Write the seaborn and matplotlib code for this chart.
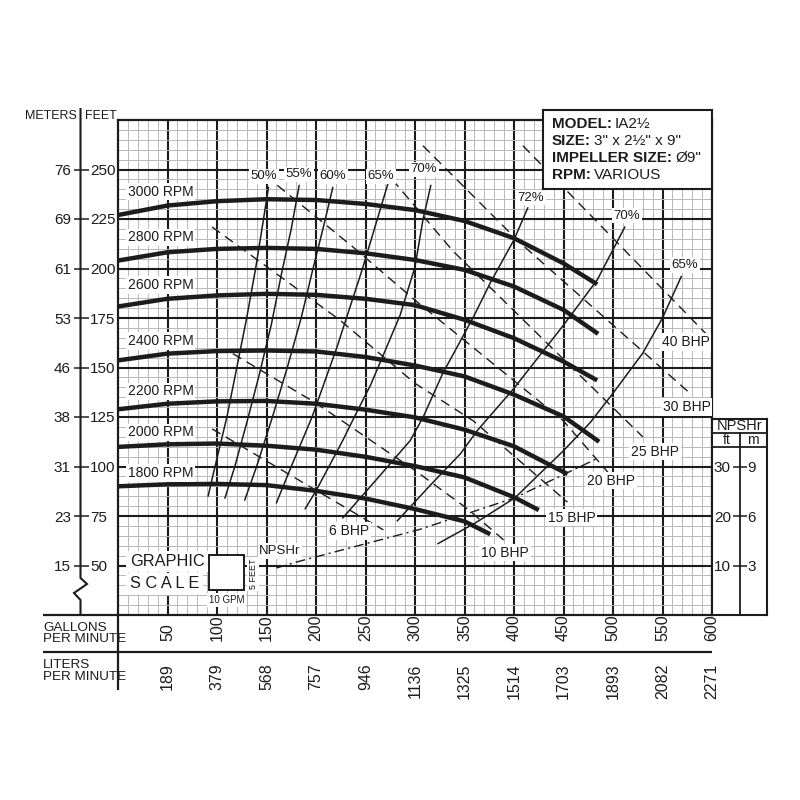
import matplotlib
matplotlib.use('Agg')
import numpy as np
import pandas as pd
import seaborn as sns
from matplotlib import pyplot as plt
from matplotlib.lines import Line2D
from matplotlib.patches import Rectangle

sns.set_style('white')
plt.rcParams['font.family'] = ['Liberation Sans Narrow', 'Liberation Sans', 'DejaVu Sans']

INK = '#1c1c1c'

# head curves: flow in gpm, head in feet
rpm_names = ['3000 RPM', '2800 RPM', '2600 RPM', '2400 RPM', '2200 RPM', '2000 RPM', '1800 RPM']
gpm_3000 = [0, 50, 100, 150, 200, 250, 300, 350, 400, 450, 484]
ft_3000 = [227, 231.8, 234, 235, 234.6, 232.6, 229.5, 224, 215.3, 202.6, 192]
gpm_2800 = [0, 50, 100, 150, 200, 250, 300, 350, 400, 450, 485]
ft_2800 = [204, 208.2, 209.9, 210.4, 209.9, 207.7, 204.3, 199.3, 190.9, 179.1, 167]
gpm_2600 = [0, 50, 100, 150, 200, 250, 300, 350, 400, 450, 484]
ft_2600 = [180.8, 184.7, 186.4, 187.2, 186.7, 184.7, 181.5, 174.1, 164.8, 153, 143.5]
gpm_2400 = [0, 50, 100, 150, 200, 250, 300, 350, 400, 450, 486]
ft_2400 = [153.6, 157, 158.3, 158.6, 158.1, 155.3, 151, 145.5, 136.3, 125.3, 112.5]
gpm_2200 = [0, 50, 100, 150, 200, 250, 300, 350, 400, 454]
ft_2200 = [128.9, 131.7, 132.9, 133.1, 131.7, 128.7, 124.8, 118.6, 110.2, 96.2]
gpm_2000 = [0, 50, 100, 150, 200, 250, 300, 350, 400, 425]
ft_2000 = [109.9, 111.2, 111.6, 110.5, 108.5, 104.9, 100.2, 94.5, 84.5, 78]
gpm_1800 = [0, 50, 100, 150, 200, 250, 300, 350, 376]
ft_1800 = [90, 91, 91.2, 90.6, 87.7, 83.8, 78.5, 72.3, 65.8]

# efficiency lines
eff_names = ['50%', '55%', '60%', '65%', '70%', '72%', '70%', '65%']
eff_gpm = [
    [91, 98, 110, 120, 130, 139, 147, 152],
    [108, 118, 130, 143, 155, 165, 175, 183],
    [128, 140, 156, 171, 185, 197, 208, 217],
    [160, 175, 196, 221, 247, 273],
    [189, 200, 227, 241, 255, 270, 285, 300, 308, 316],
    [227, 260, 295, 308, 328, 359, 376, 400, 414],
    [282, 315, 346, 363, 400, 450, 484, 512],
    [323, 361, 401, 450, 477, 500, 530, 550, 569],
]
eff_ft = [
    [85, 100, 125, 150, 175, 200, 225, 241],
    [84, 100, 122, 147, 172, 197, 220, 242],
    [83, 100, 125, 150, 175, 200, 222, 241],
    [81.6, 100, 125, 160, 200, 243.4],
    [78.6, 87.7, 113.1, 127.3, 141, 158.7, 176.5, 200.8, 224.6, 242],
    [74, 92.8, 113, 124.7, 147, 175.5, 192.7, 214.5, 230.7],
    [72.5, 90.3, 106.5, 118.2, 139.5, 171.4, 194.2, 221],
    [61, 71.5, 84.2, 108, 122.2, 137, 157.2, 175, 196],
]

# brake horsepower lines
bhp_names = ['6 BHP', '10 BHP', '15 BHP', '20 BHP', '25 BHP', '30 BHP', '40 BHP']
bhp_gpm = [
    [95, 200, 268],
    [116, 200, 300, 352, 394],
    [95, 150, 224, 300, 359, 454],
    [161, 237, 300, 450, 495],
    [277, 338, 530],
    [308, 406, 580],
    [409, 596],
]
bhp_ft = [
    [119, 88, 68],
    [157, 132, 98, 79, 61],
    [221, 201, 174, 142, 123, 82],
    [242, 211, 184, 123, 97],
    [245, 209, 115],
    [262, 213, 136],
    [262, 166],
]

# NPSHr curve
npshr_gpm = [160, 184, 305, 401, 486]
npshr_ft = [9.5, 10.9, 17.3, 23.7, 31.8]

# axis scales
feet_ticks = [50, 75, 100, 125, 150, 175, 200, 225, 250]
meter_ticks = [15, 23, 31, 38, 46, 53, 61, 69, 76]
gpm_ticks = [50, 100, 150, 200, 250, 300, 350, 400, 450, 500, 550, 600]
lpm_ticks = [189, 379, 568, 757, 946, 1136, 1325, 1514, 1703, 1893, 2082, 2271]
npsh_ft_ticks = [10, 20, 30]
npsh_m_ticks = [3, 6, 9]


def fx(x):
    return x / 800


def fy(y):
    return 1 - y / 800


def fig_line(xs, ys, lw=1.5):
    fig.add_artist(Line2D([fx(v) for v in xs], [fy(v) for v in ys], transform=fig.transFigure,
                          color=INK, lw=lw, solid_capstyle='butt', solid_joinstyle='miter'))


def scale_axis(x, y_bottom, y_top, lims, ticks, left_lab, right_lab, tick_len, fs, pad_r):
    a = fig.add_axes([fx(x), fy(y_bottom), 0.0001, (y_bottom - y_top) / 800])
    a.set_ylim(*lims)
    a.set_xticks([])
    a.set_yticks(ticks, [str(v) for v in left_lab])
    a.tick_params(axis='y', direction='inout', length=tick_len, width=1.1, pad=1.5,
                  labelsize=fs, color=INK, labelcolor=INK)
    b = a.twinx()
    b.set_ylim(*lims)
    b.set_yticks(ticks, [str(v) for v in right_lab])
    b.tick_params(axis='y', length=0, pad=pad_r, labelsize=fs, labelcolor=INK)
    for s in list(a.spines.values()) + list(b.spines.values()):
        s.set_visible(False)
    a.patch.set_alpha(0)
    b.patch.set_alpha(0)
    return a


fig = plt.figure(figsize=(8, 8), dpi=100)

ax = fig.add_axes([fx(118), fy(615), (712 - 118) / 800, (615 - 120) / 800])
ax.set_xlim(0, 600)
ax.set_ylim(25, 275)
ax.set_xticks(range(50, 600, 50))
ax.set_xticks(range(10, 600, 10), minor=True)
ax.set_yticks(range(50, 275, 25))
ax.set_yticks(range(30, 275, 5), minor=True)
ax.tick_params(which='both', length=0, labelbottom=False, labelleft=False)
ax.grid(which='minor', color='#b8b8b8', lw=0.7)
ax.grid(which='major', color=INK, lw=1.5)
ax.set_axisbelow(True)
for s in ax.spines.values():
    s.set_color(INK)
    s.set_linewidth(1.6)

# efficiency curves
eff_df = pd.concat([pd.DataFrame({'gpm': g, 'ft': h, 'line': i})
                    for i, (g, h) in enumerate(zip(eff_gpm, eff_ft))])
sns.lineplot(data=eff_df, x='gpm', y='ft', units='line', estimator=None, sort=False,
             color=INK, lw=1.1, ax=ax, zorder=3)

# BHP dashed lines
for g, h in zip(bhp_gpm, bhp_ft):
    sns.lineplot(x=g, y=h, sort=False, color=INK, lw=1.0, ax=ax, zorder=3,
                 linestyle=(0, (7, 4.5)))

# NPSHr on a twin scale: 0..100 ft NPSHr spans the same height as 25..275 ft head
ax_n = ax.twinx()
ax_n.set_ylim(0, 100)
ax_n.set_yticks([])
for s in ax_n.spines.values():
    s.set_visible(False)
sns.lineplot(x=npshr_gpm, y=npshr_ft, sort=False, color=INK, lw=1.0, ax=ax_n,
             linestyle=(0, (7, 3, 1.5, 3)))

# head curves
head_df = pd.concat([pd.DataFrame({'gpm': g, 'ft': h, 'rpm': n}) for n, g, h in zip(
    rpm_names,
    [gpm_3000, gpm_2800, gpm_2600, gpm_2400, gpm_2200, gpm_2000, gpm_1800],
    [ft_3000, ft_2800, ft_2600, ft_2400, ft_2200, ft_2000, ft_1800])])
sns.lineplot(data=head_df, x='gpm', y='ft', units='rpm', estimator=None, sort=False,
             color=INK, lw=3.2, ax=ax, zorder=4, solid_capstyle='butt', solid_joinstyle='round')
ax.set_xlabel('')
ax.set_ylabel('')
ax_n.set_ylabel('')

white = dict(facecolor='white', edgecolor='none', pad=1.2)
for name, yy in zip(rpm_names, [238.8, 215.7, 191.7, 163.4, 137.9, 117.3, 96.7]):
    ax.text(10, yy, name, fontsize=10, color=INK, ha='left', va='center', bbox=white, zorder=6)

eff_pos = [(147.5, 246.5), (182.8, 247.5), (217.2, 246.5), (265.7, 246.5), (309.1, 250),
           (416.7, 235.8), (514.1, 226.7), (572.4, 201.8)]
for name, (xx, yy) in zip(eff_names, eff_pos):
    ax.text(xx, yy, name, fontsize=9.5, color=INK, ha='center', va='center', bbox=white, zorder=6)

bhp_pos = [(233.3, 67.4), (390.9, 56.4), (458.3, 74.2), (498, 92.8), (542.4, 107.5),
           (574.4, 130), (573.2, 162.9)]
for name, (xx, yy) in zip(bhp_names, bhp_pos):
    ax.text(xx, yy, name, fontsize=10, color=INK, ha='center', va='center', bbox=white, zorder=6)

ax.text(163.6, 57.3, 'NPSHr', fontsize=9.5, color=INK, ha='center', va='center', bbox=white, zorder=6)

# graphic scale
ax.text(12, 52, 'GRAPHIC', fontsize=11.8, color=INK, ha='left', va='center',
        bbox=dict(facecolor='white', edgecolor='none', pad=2.5), zorder=6)
ax.text(12, 40.8, 'S C A L E', fontsize=11.8, color=INK, ha='left', va='center',
        bbox=dict(facecolor='white', edgecolor='none', pad=2.5), zorder=6)
ax.add_patch(Rectangle((92.2, 37.4), 35.1, 17.7, facecolor='white', edgecolor=INK, lw=1.4, zorder=6))
ax.text(136.4, 45.6, '5 FEET', fontsize=6.5, rotation=90, color=INK, ha='center', va='center',
        bbox=white, zorder=6)
ax.text(109.8, 32.5, '10 GPM', fontsize=7, color=INK, ha='center', va='center', bbox=white, zorder=6)

# model box
ax_leg = fig.add_axes([fx(543), fy(189), 169 / 800, 79 / 800])
ax_leg.set_xticks([])
ax_leg.set_yticks([])
ax_leg.set_facecolor('white')
for s in ax_leg.spines.values():
    s.set_color(INK)
    s.set_linewidth(1.5)
rows = [('MODEL:', 'IA2½'), ('SIZE:', '3" x 2½" x 9"'), ('IMPELLER SIZE:', 'Ø9"'), ('RPM:', 'VARIOUS')]
for (k, v), yy in zip(rows, [0.829, 0.608, 0.392, 0.177]):
    t = ax_leg.text(0.051, yy, k, fontsize=11, fontweight='bold', color=INK, va='center',
                    transform=ax_leg.transAxes)
    ax_leg.annotate(v, xy=(1, 0.5), xycoords=t, xytext=(2.5, 0), textcoords='offset points',
                    fontsize=11, color=INK, va='center', ha='left')

# head scale on the left, meters | feet
scale_axis(80.5, 615, 120, (25, 275), feet_ticks, meter_ticks, feet_ticks, 10.8, 11, 6.8)
fig_line([80.5, 80.5, 87, 74, 80.5, 80.5], [108, 578, 584, 593, 600, 615], lw=1.5)
fig.text(fx(77), fy(116), 'METERS', fontsize=9, color=INK, ha='right', va='center')
fig.text(fx(85), fy(116), 'FEET', fontsize=9, color=INK, ha='left', va='center')

# NPSHr panel
ax_p = fig.add_axes([fx(712), fy(615), 55 / 800, (615 - 419) / 800])
ax_p.set_xlim(0, 1)
ax_p.set_ylim(0, 1)
ax_p.set_xticks([])
ax_p.set_yticks([])
for s in ax_p.spines.values():
    s.set_color(INK)
    s.set_linewidth(1.5)
ax_p.axhline((615 - 433) / 196, color=INK, lw=1.3)
ax_p.axhline((615 - 447) / 196, color=INK, lw=1.3)
ax_p.text(0.5, (615 - 426) / 196, 'NPSHr', fontsize=10.5, color=INK, ha='center', va='center')
ax_p.text(0.27, (615 - 440) / 196, 'ft', fontsize=10, color=INK, ha='center', va='center')
ax_p.text(0.75, (615 - 440) / 196, 'm', fontsize=10, color=INK, ha='center', va='center')
a_np = scale_axis(739.5, 615, 433, (0, (615 - 433) / 4.95), npsh_ft_ticks, npsh_ft_ticks,
                  npsh_m_ticks, 9.4, 11, 5.5)
a_np.spines['left'].set_visible(True)
a_np.spines['left'].set_color(INK)
a_np.spines['left'].set_linewidth(1.3)

# flow scales under the grid
ax_g = fig.add_axes([fx(118), fy(652), 594 / 800, 37 / 800])
ax_g.set_xlim(0, 600)
ax_g.set_ylim(0, 1)
ax_g.set_yticks([])
ax_g.set_xticks(gpm_ticks, [str(v) for v in lpm_ticks])
ax_g.tick_params(axis='x', direction='inout', length=13.7, width=1.1, pad=1.5,
                 labelsize=11.5, labelrotation=90, color=INK, labelcolor=INK)
for s in ax_g.spines.values():
    s.set_visible(False)
ax_g.patch.set_alpha(0)
for g in gpm_ticks:
    ax_g.text(g, 0.29, str(g), rotation=90, fontsize=11.5, color=INK, ha='center', va='bottom')

fig_line([43, 118], [615, 615], lw=1.6)
fig_line([43, 712], [652, 652], lw=1.6)
fig_line([118, 118], [615, 690], lw=1.6)
fig.text(fx(43), fy(633.5), 'GALLONS\nPER MINUTE', fontsize=9.7, color=INK, ha='left', va='center',
         linespacing=0.95)
fig.text(fx(43), fy(671), 'LITERS\nPER MINUTE', fontsize=9.7, color=INK, ha='left', va='center',
         linespacing=0.95)

fig.savefig('out.png', dpi=100)
